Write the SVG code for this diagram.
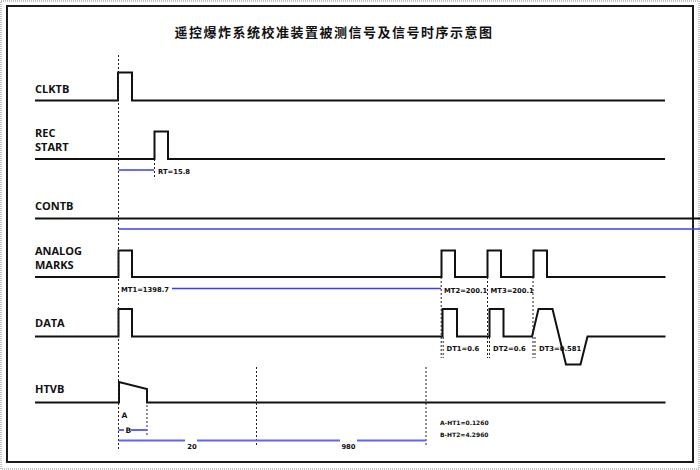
<svg xmlns="http://www.w3.org/2000/svg" width="700" height="470" viewBox="0 0 700 470">
<style>
.sig{fill:none;stroke:#111;stroke-width:2;stroke-linejoin:miter}
.dot{fill:none;stroke:#222;stroke-width:1;stroke-dasharray:2,2}
.dim{fill:none;stroke:#3c3cf0;stroke-width:1.3}
.dim2{fill:none;stroke:#6464f0;stroke-width:2}
.lbl{font-family:"Open Sans","DejaVu Sans",sans-serif;font-weight:bold;font-size:11px;fill:#111}
.sm{font-family:"DejaVu Sans","Liberation Sans",sans-serif;font-weight:bold;font-size:6.8px;fill:#111}
.xs{font-family:"DejaVu Sans","Liberation Sans",sans-serif;font-weight:bold;font-size:6px;fill:#111}
.title{font-family:"Noto Sans CJK SC","Noto Sans",sans-serif;font-weight:bold;font-size:13px;letter-spacing:1.5px;fill:#111}
</style>
<rect x="0" y="0" width="700" height="470" fill="#fff"/>
<rect x="1" y="1" width="698" height="468" fill="none" stroke="#888" stroke-width="1" stroke-dasharray="1,1"/>
<rect x="7" y="6" width="686" height="456" fill="none" stroke="#1a1a1a" stroke-width="2"/>
<text class="title" x="334" y="36.5" text-anchor="middle">遥控爆炸系统校准装置被测信号及信号时序示意图</text>

<g id="clktb">
<text class="lbl" x="35" y="93">CLKTB</text>
<path class="sig" d="M35,100.5 H118 V72.5 H132 V100.5 H665"/>
</g>
<g id="recstart">
<text class="lbl" x="35" y="137">REC</text>
<text class="lbl" x="35" y="150.5">START</text>
<path class="sig" d="M35,159 H154.5 V131.5 H168 V159 H665"/>
</g>
<g id="contb">
<text class="lbl" x="35" y="209.5">CONTB</text>
<path class="sig" d="M35,218.5 H700"/>
</g>
<g id="analog">
<text class="lbl" x="35" y="254.5">ANALOG</text>
<text class="lbl" x="35" y="268.5">MARKS</text>
<path class="sig" d="M35,277 H118.5 V250.5 H132 V277 H441.5 V250.5 H455 V277 H487.5 V250.5 H501 V277 H533.5 V250.5 H547 V277 H665.5"/>
</g>
<g id="data">
<text class="lbl" x="35" y="327">DATA</text>
<path class="sig" d="M35,336.5 H118.5 V309 H132 V336.5 H442.5 V309 H457 V336.5 H489.5 V309 H503.5 V336.5 H532 L538.5,309 H552.5 L566,364.5 H580.5 L587.5,336.5 H665.5"/>
</g>
<g id="htvb">
<text class="lbl" x="35" y="393">HTVB</text>
<path class="sig" d="M35,402.5 H119 V382 L147,389 V402.5 H665.5"/>
</g>

<g id="connectors">
<path class="dot" d="M118.5,55 V449"/>
<path class="dot" d="M154.5,159 V179"/>
<path class="dot" d="M441.2,277 V358 M443.2,337 V358"/>
<path class="dot" d="M487.5,277 V358 M489.5,337 V358"/>
<path class="dot" d="M533,277 V358 M535,337 V358"/>
<path class="dot" d="M147,389 V435"/>
<path class="dot" d="M256.5,367 V445"/>
<path class="dot" d="M426,367 V445"/>
<path class="dim" d="M118.5,170 H154"/>
<path class="dim" d="M118.5,229 H700"/>
<path class="dim" d="M172,288.5 H441"/>
<path class="dim2" d="M118.5,430 H124 M131,430 H147"/>
<path class="dim2" d="M118.5,440.5 H185 M197,440.5 H340 M357,440.5 H426"/>
</g>

<g id="labels">
<text class="sm" x="158" y="174">RT=15.8</text>
<text class="sm" x="121" y="291.5">MT1=1398.7</text>
<text class="sm" x="444" y="292.5">MT2=200.1</text>
<text class="sm" x="490.5" y="292.5">MT3=200.1</text>
<text class="sm" x="446.5" y="351">DT1=0.6</text>
<text class="sm" x="493" y="351">DT2=0.6</text>
<text class="sm" x="539" y="351">DT3=0.581</text>
<text class="sm" x="121.5" y="418" style="font-size:7.5px">A</text>
<text class="sm" x="125.5" y="432.5" style="font-size:7.5px">B</text>
<text class="sm" x="192" y="448.5" text-anchor="middle">20</text>
<text class="sm" x="348.5" y="448.5" text-anchor="middle">980</text>
<text class="xs" x="440" y="424.5">A-HT1=0.1260</text>
<text class="xs" x="440" y="437">B-HT2=4.2960</text>
</g>
</svg>
